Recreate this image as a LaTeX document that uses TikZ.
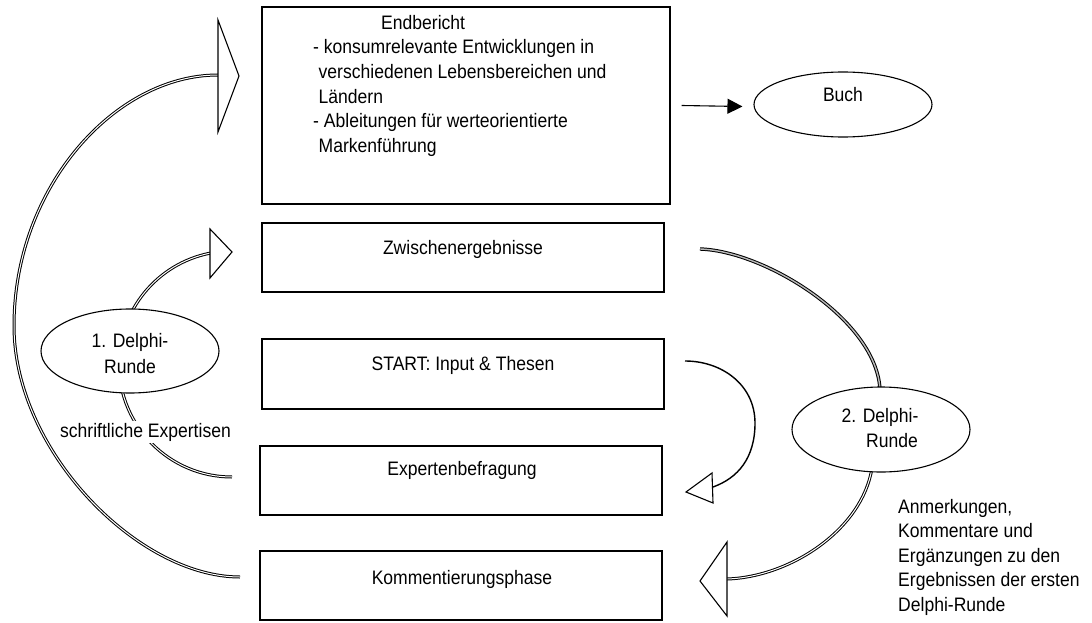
\documentclass[tikz,border=0pt]{standalone}
\usepackage{fontspec}
\setmainfont{Liberation Sans}[FakeStretch=0.9]
\usetikzlibrary{shapes.geometric,arrows.meta}
\begin{document}
\begin{tikzpicture}[x=1pt,y=-1pt,
  font=\fontsize{19.5}{24.6}\selectfont,
  box/.style={draw, line width=1.1pt, inner sep=0pt},
  oval/.style={draw, ellipse, line width=1.1pt, fill=white, inner sep=0pt,
               minimum width=178pt},
  txt/.style={inner sep=0pt},
  shaft/.style={draw, line width=1pt, double=white, double distance=1pt},
  shaftg/.style={draw, line width=1pt, double=gray!55, double distance=1.4pt},
  head/.style={draw, line width=1.1pt, fill=white, line join=miter},
  thin/.style={draw, line width=1.4pt}]
\useasboundingbox (0,0) rectangle (1092,623);

% boxes
\node[box, minimum width=408pt, minimum height=197pt] (endb)  at (466,105.5) {};
\node[box, minimum width=402pt, minimum height=69pt]  (zw)    at (463,257.5) {};
\node[box, minimum width=402pt, minimum height=70pt]  (start) at (463,374) {};
\node[box, minimum width=402pt, minimum height=69pt]  (expb)  at (461,480.5) {};
\node[box, minimum width=402pt, minimum height=69pt]  (komm)  at (461,585.5) {};

% box texts
\node[txt, anchor=base west] (e1) at (381,29.3)  {Endbericht};
\node[txt, anchor=base west] (e2) at (313,53.9)  {- konsumrelevante Entwicklungen in};
\node[txt, anchor=base west] (e3) at (318.5,78.5) {verschiedenen Lebensbereichen und};
\node[txt, anchor=base west] (e4) at (318.5,103.1) {Ländern};
\node[txt, anchor=base west] (e5) at (313,127.7) {- Ableitungen für werteorientierte};
\node[txt, anchor=base west] (e6) at (318.5,152.3) {Markenführung};
\node[txt, anchor=base] (zwt) at (463,254) {Zwischenergebnisse};
\node[txt, anchor=base] (stt) at (463,370.5) {START: Input \& Thesen};
\node[txt, anchor=base] (ebt) at (462,475) {Expertenbefragung};
\node[txt, anchor=base] (kot) at (462,584) {Kommentierungsphase};

% curved block arrows (shafts)
\coordinate (a0) at (240,577);
\coordinate (a1) at (14,326);
\coordinate (a2) at (218,75);
\draw[shaft] (a0) .. controls (138,577) and (14,451) .. (a1)
                  .. controls (14,187) and (115,75) .. (a2);
\draw[head] (218,20) -- (239,76) -- (218,132) -- cycle;

\coordinate (b0) at (232,477);
\draw[shaft] (b0) arc[start angle=90, end angle=258.8, radius=113] coordinate (b1);
\draw[head] (210,229) -- (232,252) -- (210,278) -- cycle;

\coordinate (c0) at (700,249);
\coordinate (c1) at (880,390);
\draw[shaftg] (c0) .. controls (765,251) and (877,320) .. (c1);

\coordinate (d0) at (872,468);
\coordinate (d1) at (727,579);
\draw[shaft] (d0) .. controls (862,530) and (790,577) .. (d1);
\draw[head] (727,542) -- (700,581) -- (727,616) -- cycle;

\coordinate (s0) at (685,361);
\coordinate (s1) at (755,423);
\coordinate (s2) at (713,487);
\draw[thin] (s0) .. controls (722,361) and (755,385) .. (s1)
                 .. controls (755,458) and (738,478) .. (s2);
\draw[head] (712,473) -- (686,492) -- (713,503) -- cycle;

% Buch arrow
\node[oval, minimum height=65pt] (buch) at (843,104.5) {};
\node[txt, anchor=base] (bucht) at (843,101.7) {Buch};
\draw[line width=1.1pt, -{Triangle[length=15pt,width=15pt]}]
  ([xshift=11pt]endb.east) -- ([xshift=-11pt,yshift=-2pt]buch.west);

% Delphi ellipses
\node[oval, minimum height=84pt] (d1e) at (130,351) {};
\node[txt, anchor=base] (d1a) at (130,347) {1. Delphi-};
\node[txt, anchor=base] (d1b) at (130,373) {Runde};
\node[oval, minimum height=85pt] (d2e) at (881,429.5) {};
\node[txt, anchor=base] (d2a) at (880,422) {2. Delphi-};
\node[txt, anchor=base] (d2b) at (892,447) {Runde};

% labels
\node[txt, anchor=base, fill=white, inner sep=2pt] (schr) at (145.5,437) {schriftliche Expertisen};
\node[txt, anchor=base west] (n1) at (898,513)   {Anmerkungen,};
\node[txt, anchor=base west] (n2) at (898,537.5) {Kommentare und};
\node[txt, anchor=base west] (n3) at (898,562)   {Ergänzungen zu den};
\node[txt, anchor=base west] (n4) at (898,586.5) {Ergebnissen der ersten};
\node[txt, anchor=base west] (n5) at (898,611)   {Delphi-Runde};
\end{tikzpicture}
\end{document}
